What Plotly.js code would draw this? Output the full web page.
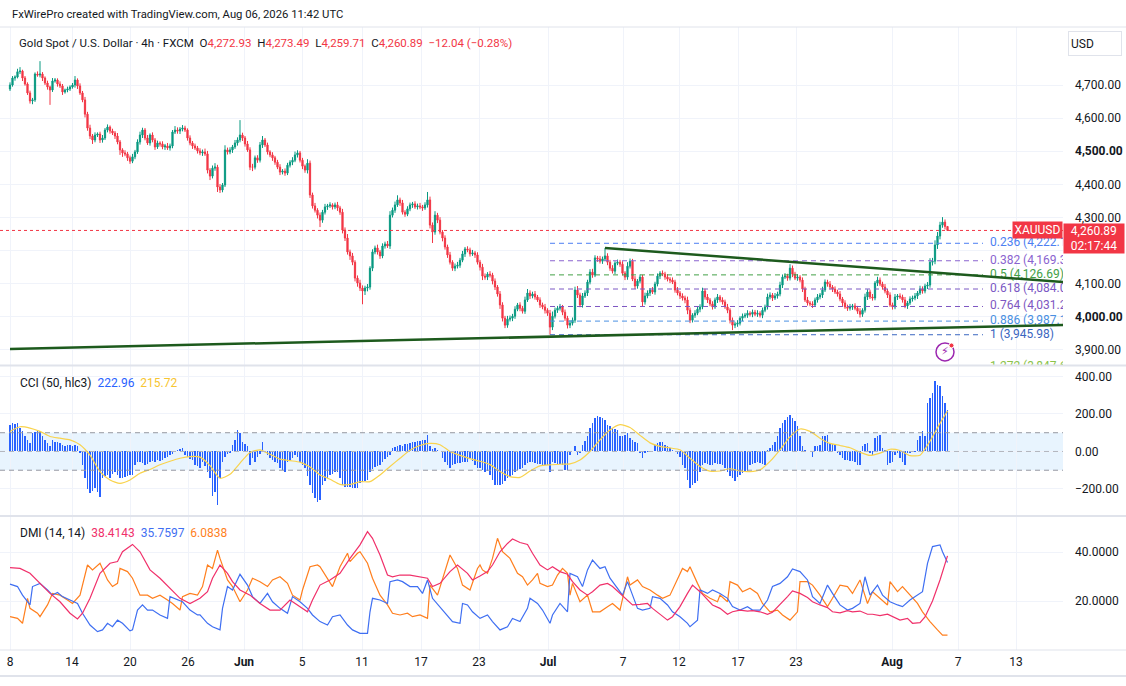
<!DOCTYPE html>
<html>
<head>
<meta charset="utf-8">
<title>XAUUSD 4h</title>
<script src="https://cdn.plot.ly/plotly-3.0.1.min.js"></script>
<style>
    html, body { margin: 0; padding: 0; background: #ffffff; }
    #graf { width: 1126px; height: 686px; }
</style>
</head>
<body>
<div id="graf"></div>
<script>
// 4h bars (open of each bar = previous close)
var firstOpen = 4688;
var closes = [
    4700,4721,4724,4740,4742,4721,4703,4676,4652,4655,4733,4730,4733,4721,4706,4694,4685,4712,4715,4703,
    4697,4679,4685,4688,4694,4700,4715,4697,4676,4655,4612,4570,4546,4534,4549,4552,4534,4540,4564,4573,
    4561,4555,4546,4528,4504,4495,4492,4480,4470,4483,4498,4528,4549,4564,4540,4525,4549,4534,4513,4525,
    4522,4513,4516,4510,4516,4558,4564,4561,4567,4570,4564,4540,4525,4516,4510,4501,4495,4498,4492,4443,
    4425,4449,4452,4392,4383,4398,4504,4498,4504,4513,4525,4534,4549,4540,4522,4504,4452,4452,4480,4473,
    4519,4534,4519,4498,4489,4480,4467,4452,4437,4440,4434,4458,4467,4473,4489,4495,4473,4455,4443,4464,
    4368,4335,4322,4307,4292,4316,4332,4335,4338,4332,4338,4329,4316,4262,4238,4196,4184,4165,4117,4102,
    4087,4078,4087,4090,4147,4196,4208,4196,4184,4214,4220,4214,4307,4322,4338,4353,4344,4316,4310,4326,
    4338,4341,4332,4335,4332,4329,4338,4353,4277,4256,4307,4292,4256,4238,4211,4187,4165,4147,4153,4156,
    4171,4190,4205,4202,4190,4193,4187,4165,4150,4123,4120,4129,4126,4108,4090,4069,4036,3996,3975,3993,
    3996,4002,4023,4036,4026,4017,4051,4072,4063,4069,4060,4051,4036,4030,4020,4011,3969,4002,4020,4026,
    4030,4014,3996,3975,3981,3990,4081,4066,4036,4063,4072,4105,4135,4126,4178,4175,4168,4175,4184,4165,
    4147,4138,4162,4165,4159,4132,4120,4153,4168,4114,4093,4108,4120,4045,4063,4072,4081,4075,4099,4123,
    4132,4129,4120,4114,4111,4105,4081,4072,4063,4057,4051,4020,3990,4005,4011,4023,4030,4078,4060,4051,
    4039,4030,4051,4060,4051,4045,4030,4020,3990,3975,3978,3981,3996,4002,4005,4011,4008,4014,4008,4011,
    4005,4020,4030,4060,4066,4057,4063,4069,4096,4120,4123,4117,4147,4129,4117,4120,4111,4084,4051,4042,
    4039,4036,4051,4060,4066,4081,4105,4099,4090,4084,4075,4069,4054,4042,4030,4026,4030,4033,4026,4017,
    4008,4020,4060,4075,4060,4057,4102,4111,4099,4090,4078,4066,4036,4030,4060,4063,4060,4051,4033,4042,
    4054,4057,4063,4072,4084,4078,4093,4096,4165,4168,4217,4244,4277,4286,4272.93,4260.89
];
// wick above / below the body, in dollars
var wickUp = [
    8,6,5,9,12,4,6,5,7,6,5,8,39,6,5,7,4,9,6,5,
    8,6,4,7,5,6,12,5,8,6,9,7,10,6,8,5,7,9,6,8,
    5,7,6,9,6,5,8,6,7,9,6,8,10,7,6,9,5,8,6,7,
    5,8,6,9,7,6,12,8,6,9,7,5,8,6,7,6,8,7,10,9,
    6,8,12,7,9,6,14,7,8,6,9,8,45,7,6,9,8,10,7,8,
    9,12,6,7,5,8,6,7,9,6,8,7,6,9,10,8,6,7,5,12,
    8,7,9,6,8,7,9,6,8,5,7,9,6,10,8,12,7,9,6,8,
    10,8,7,9,6,8,7,10,6,8,7,9,12,8,10,14,7,9,6,8,
    7,6,8,7,9,6,8,24,10,8,12,7,9,6,8,7,9,6,8,10,
    7,9,6,8,7,9,6,8,7,10,8,6,9,7,8,6,9,8,7,10,
    8,7,9,6,8,7,10,12,8,7,9,6,8,7,9,6,10,14,8,7,
    9,6,8,7,9,8,10,12,7,9,8,7,9,10,8,6,9,7,24,8,
    7,9,6,8,7,9,6,12,8,7,9,6,8,7,10,8,6,9,7,8,
    6,8,7,9,6,8,7,9,6,8,7,10,8,6,9,7,8,10,7,9,
    6,8,7,9,6,8,7,9,6,8,7,9,6,8,7,9,6,8,7,9,
    6,8,7,10,8,6,9,7,10,8,9,7,12,8,7,9,6,8,7,9,
    6,8,7,9,6,10,8,7,9,6,8,7,9,6,8,7,9,6,8,7,
    9,6,10,8,7,9,6,10,8,7,9,6,8,7,9,6,8,7,9,6,
    8,7,9,6,10,8,7,9,12,10,14,12,10,15,8,0.56
];
var wickDn = [
    6,5,8,4,7,9,5,6,8,10,6,5,7,9,6,8,45,6,5,8,
    6,9,5,7,6,5,8,9,6,7,10,8,9,12,7,6,9,8,6,7,
    8,6,9,7,15,12,7,9,8,6,7,6,8,9,7,6,8,7,9,6,
    8,7,9,6,8,7,6,8,9,7,6,8,7,9,6,8,7,9,6,10,
    12,7,8,15,9,7,6,8,7,9,6,8,7,9,8,6,9,12,7,8,
    7,9,6,8,7,9,8,6,9,7,8,6,7,9,6,8,7,9,8,10,
    9,8,7,10,21,8,7,9,6,8,7,9,8,10,9,8,12,9,10,11,
    9,40,12,10,8,9,7,8,9,7,8,6,9,7,8,6,9,7,8,6,
    7,9,6,8,7,9,6,8,10,33,8,9,7,10,8,9,7,8,9,7,
    8,6,9,7,8,6,9,7,10,12,8,9,7,10,9,8,12,10,9,8,
    7,9,8,6,9,7,8,6,9,7,8,6,9,7,10,8,23,9,7,8,
    7,9,8,10,9,7,8,9,7,8,6,9,7,8,6,9,7,8,6,9,
    8,7,9,6,8,7,9,8,7,6,9,8,7,15,8,7,9,6,8,7,
    9,6,8,7,9,6,8,7,9,8,10,12,9,7,8,6,9,7,8,9,
    7,8,6,9,7,8,6,9,10,15,9,8,7,9,6,8,7,9,6,8,
    7,9,6,8,7,9,6,8,7,9,6,8,7,9,6,8,7,9,6,8,
    7,9,6,8,7,9,6,8,7,9,6,8,7,9,6,8,7,9,6,8,
    10,8,7,9,6,8,7,9,6,8,7,9,6,8,7,9,6,8,7,9,
    6,8,7,9,6,8,7,9,8,10,9,12,10,8,9,1.18
];

// CCI (50, hlc3), one value per bar
var cci = [
    143,152,148,150,125,107,80,60,45,98,105,110,107,80,60,45,27,62,53,48,
    45,35,30,33,35,30,35,27,-10,-71,-143,-200,-223,-210,-196,-215,-241,-140,-130,-125,
    -143,-120,-107,-125,-143,-140,-135,-130,-128,-125,-71,-54,-54,-60,-71,-65,-54,-50,-54,-45,
    -50,-45,-36,-30,-18,-15,0,8,12,18,-18,-30,-40,-45,-71,-80,-89,-54,-80,-107,
    -143,-240,-214,-286,-143,-54,-30,-15,-9,35,60,112,100,53,40,27,-71,-36,-54,-30,
    -15,50,0,-18,-36,-45,-54,-60,-89,-100,-107,-54,-45,-36,-18,-30,-54,-71,-89,-130,
    -179,-220,-250,-268,-260,-179,-160,-143,-125,-118,-112,-107,-143,-179,-188,-190,-192,-196,-194,-196,
    -170,-165,-160,-152,-107,-95,-85,-78,-71,-54,-40,-30,-18,18,25,30,35,30,38,42,
    45,48,50,55,58,60,62,89,27,15,20,10,0,-36,-54,-71,-89,-71,-65,-60,
    -62,-58,-54,-54,-36,-50,-70,-89,-89,-100,-107,-105,-125,-150,-179,-180,-179,-175,-160,-143,
    -135,-125,-107,-100,-95,-89,-71,-62,-58,-54,-62,-65,-68,-70,-71,-71,-107,-54,-60,-65,
    -68,-71,-98,-98,-18,0,27,-18,-9,35,55,80,125,150,179,187,185,178,170,143,
    135,125,120,116,80,85,90,98,71,60,50,45,-9,-36,-9,-5,-4,0,35,45,
    53,48,35,30,20,9,0,-15,-27,-71,-89,-152,-196,-180,-170,-160,-107,-71,-62,-65,
    -70,-71,-62,-65,-68,-71,-89,-110,-130,-143,-160,-134,-125,-115,-107,-107,-71,-68,-62,-54,
    -60,-65,-71,9,20,35,53,80,125,150,170,185,196,179,160,134,80,27,9,5,
    0,-27,27,30,35,80,85,89,45,40,35,-9,-20,-36,-45,-48,-50,-52,-54,-71,
    -71,27,40,45,-9,-18,71,80,89,18,9,-71,-60,-54,-18,-9,-36,-55,-71,-9,
    -6,-4,-5,62,85,107,80,259,286,312,375,357,348,295,259,222.96
];
// CCI smoothing line, read every 4th bar (last point = last bar)
var cciMa = [
    107,132,125,107,80,71,62,36,-20,-107,
    -152,-170,-152,-116,-96,-71,-52,-36,-27,-30,
    -75,-143,-122,-62,-5,9,-15,-41,-49,-57,
    -83,-125,-148,-175,-176,-161,-161,-125,-80,-36,
    7,32,43,36,0,-21,-38,-52,-70,-107,
    -134,-138,-104,-77,-71,-68,-66,-45,0,62,
    115,143,128,86,46,27,19,9,-36,-80,
    -105,-104,-92,-104,-107,-98,-53,9,78,120,
    107,71,43,32,20,-4,-21,-9,12,5,
    -22,-20,55,150,215.72
];

// DMI (14, 14): [bar, value]
var adx = [[0,33.6],[4,33.3],[8,31.3],[12,27.2],[16,23.1],[20,19.7],[24,15.0],[27,12.7],[29,15.0],[32,21.1],
    [36,31.3],[40,35.4],[43,36.1],[45,40.1],[49,43.1],[52,40.1],[56,32.7],[60,29.3],[64,25.2],[68,21.1],
    [72,19.0],[76,21.1],[79,23.8],[81,29.3],[84,34.7],[87,31.3],[89,27.9],[92,24.5],[96,22.4],[100,19.0],
    [104,16.3],[108,16.3],[112,20.4],[116,17.7],[119,15.6],[121,20.4],[124,26.5],[128,28.6],[132,31.3],[136,37.4],
    [140,42.9],[143,48.3],[145,45.6],[148,38.8],[151,30.6],[153,29.9],[156,30.6],[160,30.6],[164,29.9],[167,29.3],
    [169,25.9],[172,27.2],[176,32.0],[179,34.7],[183,31.3],[185,28.6],[188,30.2],[191,32.0],[193,34.7],[196,40.1],
    [199,43.5],[201,45.3],[204,43.9],[207,43.1],[209,39.5],[212,34.7],[215,32.7],[217,34.0],[220,32.0],[223,30.9],
    [225,27.9],[228,24.5],[231,22.4],[233,23.8],[236,26.5],[239,27.2],[241,25.9],[244,23.1],[247,20.4],[249,18.4],
    [252,18.6],[255,19.0],[257,17.0],[260,14.6],[263,12.2],[265,13.6],[268,17.7],[271,23.1],[273,26.5],[276,23.8],
    [279,20.4],[281,18.4],[284,17.0],[287,14.6],[289,15.6],[292,16.3],[295,15.9],[297,16.1],[300,15.6],[303,14.6],
    [305,15.4],[308,18.4],[311,21.8],[313,24.1],[316,23.1],[319,21.4],[321,19.7],[324,18.4],[327,17.3],[329,15.6],
    [332,15.2],[335,16.1],[337,15.6],[340,15.9],[343,14.6],[345,14.6],[348,14.0],[351,14.6],[353,13.6],[356,12.2],
    [359,12.9],[361,10.9],[364,11.2],[366,13.5],[369,20.0],[372,28.6],[375,38.4143]];
var plusDi = [[0,26.9],[3,25.9],[5,22.4],[8,18.4],[9,25.9],[12,27.2],[15,24.5],[17,22.4],[19,23.5],[21,21.8],
    [24,20.4],[27,19.0],[29,15.0],[32,10.2],[35,7.5],[37,8.2],[39,10.9],[41,9.5],[43,12.2],[45,10.9],
    [48,7.8],[49,8.2],[51,16.3],[53,18.4],[55,16.3],[57,16.3],[60,14.3],[63,12.9],[64,21.8],[67,20.4],
    [69,19.7],[72,16.3],[75,14.3],[76,14.3],[79,10.9],[81,9.5],[84,8.2],[85,17.0],[87,25.9],[89,24.5],
    [92,30.9],[95,26.5],[97,21.8],[100,19.0],[103,23.1],[105,19.7],[108,17.0],[111,15.0],[113,21.8],[116,19.7],
    [119,17.0],[121,14.3],[124,11.6],[127,10.2],[129,13.6],[132,14.3],[135,10.2],[137,8.2],[140,6.8],[143,6.8],
    [144,15.6],[145,21.1],[148,20.4],[151,19.0],[152,27.9],[155,28.6],[157,27.9],[160,25.9],[163,25.9],[165,23.1],
    [167,28.6],[169,21.1],[172,17.7],[175,14.3],[177,11.6],[180,10.9],[181,19.0],[183,18.4],[185,15.6],[188,12.9],
    [191,14.3],[193,11.6],[196,8.2],[199,9.5],[201,12.9],[204,11.6],[207,17.0],[208,21.1],[211,19.0],[213,16.3],
    [216,10.9],[217,14.3],[219,17.7],[220,19.0],[223,15.6],[224,31.3],[227,29.9],[229,25.9],[231,32.7],[233,36.7],
    [236,33.3],[238,34.0],[240,29.3],[243,25.2],[245,22.4],[247,27.9],[249,22.4],[251,17.0],[253,16.3],[256,17.0],
    [257,21.8],[260,21.1],[263,18.4],[265,15.6],[268,13.6],[271,10.9],[272,9.5],[275,12.2],[276,24.5],[279,23.1],
    [281,24.5],[284,23.1],[287,21.1],[289,17.7],[292,16.3],[295,17.7],[297,16.3],[300,16.3],[303,20.4],[305,25.9],
    [308,27.2],[311,29.9],[313,33.1],[316,32.0],[319,28.6],[321,21.8],[324,19.0],[327,26.5],[329,23.1],[332,18.4],
    [335,16.3],[337,17.0],[340,19.0],[342,29.9],[344,22.4],[347,26.5],[349,22.4],[352,19.7],[355,18.4],[357,17.7],
    [360,20.4],[363,22.4],[365,23.8],[367,35.4],[369,42.2],[372,42.9],[373,40.1],[375,35.7597]];
var minusDi = [[0,13.6],[3,12.9],[5,10.9],[7,21.1],[8,17.0],[11,15.0],[12,13.6],[15,18.4],[17,23.1],[20,22.4],
    [23,20.4],[25,19.0],[28,22.4],[31,34.7],[33,32.7],[36,35.4],[39,28.6],[41,25.9],[43,27.2],[44,33.3],
    [47,32.0],[49,29.3],[52,22.4],[55,22.4],[57,21.1],[60,22.4],[63,20.4],[65,19.0],[68,16.3],[69,21.8],
    [72,23.1],[75,22.4],[77,25.9],[79,34.7],[81,33.3],[83,40.8],[84,37.4],[87,28.6],[89,25.9],[92,19.7],
    [95,24.5],[97,29.3],[100,27.9],[103,25.9],[105,28.6],[108,29.9],[111,27.2],[113,22.4],[116,20.4],[117,24.5],
    [120,34.0],[123,34.7],[124,34.0],[127,29.3],[129,25.9],[132,34.0],[135,39.5],[136,36.1],[139,39.5],[140,40.1],
    [143,35.4],[145,29.3],[148,22.4],[151,18.4],[153,15.0],[156,14.3],[159,15.0],[161,13.6],[164,14.3],[167,12.9],
    [168,26.5],[171,22.4],[173,29.3],[176,38.8],[179,33.3],[181,26.5],[184,24.5],[187,33.3],[188,34.7],[189,32.7],
    [191,31.3],[193,37.4],[195,45.6],[197,40.1],[200,37.4],[203,31.3],[205,29.9],[207,26.5],[209,28.6],[211,31.3],
    [212,27.2],[215,25.9],[217,26.5],[219,30.6],[221,33.3],[223,31.3],[224,22.4],[225,27.2],[228,19.7],[231,22.4],
    [233,15.6],[236,15.6],[239,17.7],[241,19.0],[244,16.3],[247,29.9],[248,26.5],[251,28.6],[253,25.9],[256,24.5],
    [259,22.4],[261,21.1],[264,22.4],[267,28.6],[269,33.3],[271,32.0],[272,34.0],[275,27.2],[277,23.1],[280,21.1],
    [283,19.7],[284,22.4],[287,19.7],[288,27.9],[291,26.5],[293,23.8],[296,25.2],[299,23.1],[301,19.0],[304,15.6],
    [307,16.3],[309,14.3],[312,12.2],[315,15.6],[316,27.9],[319,27.9],[321,26.5],[324,22.4],[327,17.7],[329,21.1],
    [332,26.5],[335,25.9],[337,23.1],[340,28.6],[343,19.0],[345,23.8],[348,21.1],[351,18.4],[352,27.9],[355,23.8],
    [357,25.9],[360,22.4],[363,19.0],[365,15.6],[368,11.6],[371,8.2],[373,6.1],[375,6.0838]];

// time axis (bar positions of the date labels)
var tickBars = [0, 24.8, 48, 71.2, 93.6, 116.8, 140.8, 164.4, 187.6, 215.2, 245.2, 267.6, 291.2, 314.4, 352.8, 379.2, 402.4];
var tickText = ['8','14','20','26','<b>Jun</b>','5','11','17','23','<b>Jul</b>','7','12','17','23','<b>Aug</b>','7','13'];

// fibonacci retracement (from 4,307.40 down to 3,945.98) and its colours
var fibHigh = 4307.40;
var fibLow = 3945.98;
var fibLevels = [0.236, 0.382, 0.5, 0.618, 0.764, 0.886, 1, 1.272];
var fibColors = ['#4d7ff2', '#8a63cf', '#43a047', '#7b58c4', '#7e57c2', '#4a90e2', '#3a66c0', '#8bc34a'];
var fibFrom = 216, fibTo = 389.2, fibText = 392;

// hand drawn trend lines: [bar, price] -> [bar, price]
var supportLine = [[0, 3903], [421.2, 3975.5]];
var resistLine = [[238, 4208], [421.2, 4105]];

var red = '#f23645', green = '#089981';
var fontFam = 'Roboto, "Liberation Sans", sans-serif';

function fmt(v, d) {
    return v.toLocaleString('en-US', {minimumFractionDigits: d, maximumFractionDigits: d});
}
function minus(s) {
    return s.replace('-', '\u2212');
}

var bars = [], opens = [], highs = [], lows = [];
for (var i = 0; i < closes.length; i++) {
    var o = i === 0 ? firstOpen : closes[i - 1];
    bars.push(i);
    opens.push(o);
    highs.push(Math.max(o, closes[i]) + wickUp[i]);
    lows.push(Math.min(o, closes[i]) - wickDn[i]);
}
var last = closes.length - 1;

var cciMaBars = [];
for (var k = 0; k < cciMa.length - 1; k++) {
    cciMaBars.push(k * 4);
}
cciMaBars.push(last);

function kol(arr, n) {
    return arr.map(function (p) { return p[n]; });
}

var traces = [];
traces.push({
    type: 'candlestick', x: bars, open: opens, high: highs, low: lows, close: closes,
    xaxis: 'x', yaxis: 'y', hoverinfo: 'skip', whiskerwidth: 0,
    increasing: {line: {color: green, width: 1}, fillcolor: green},
    decreasing: {line: {color: red, width: 1}, fillcolor: red}
});

// labels are cut by the price scale, as on the screenshot
var fibPrices = fibLevels.map(function (r) { return fibHigh - r * (fibHigh - fibLow); });
traces.push({
    type: 'scatter', mode: 'text', xaxis: 'x', yaxis: 'y', hoverinfo: 'skip', cliponaxis: true,
    x: fibLevels.map(function () { return fibText; }),
    y: fibPrices,
    text: fibLevels.map(function (r, j) { return (r + ' (' + fmt(fibPrices[j], 2) + ')').slice(0, 14); }),
    textposition: 'middle right',
    textfont: {family: fontFam, size: 12, color: fibColors}
});

traces.push({
    type: 'bar', x: bars, y: cci, xaxis: 'x', yaxis: 'y2', width: 0.6,
    marker: {color: '#2962ff', line: {width: 0}}, hoverinfo: 'skip'
});
traces.push({
    type: 'scatter', mode: 'lines', x: cciMaBars, y: cciMa, xaxis: 'x', yaxis: 'y2',
    line: {color: '#f9d34c', width: 1.2, shape: 'spline', smoothing: 0.6}, hoverinfo: 'skip'
});

traces.push({
    type: 'scatter', mode: 'lines', x: kol(minusDi, 0), y: kol(minusDi, 1), xaxis: 'x', yaxis: 'y3',
    line: {color: '#ff7f1e', width: 1.2}, hoverinfo: 'skip'
});
traces.push({
    type: 'scatter', mode: 'lines', x: kol(plusDi, 0), y: kol(plusDi, 1), xaxis: 'x', yaxis: 'y3',
    line: {color: '#3f6ff2', width: 1.2}, hoverinfo: 'skip'
});
traces.push({
    type: 'scatter', mode: 'lines', x: kol(adx, 0), y: kol(adx, 1), xaxis: 'x', yaxis: 'y3',
    line: {color: '#f0306a', width: 1.2}, hoverinfo: 'skip'
});

var shapes = [];
// CCI band
shapes.push({type: 'rect', xref: 'paper', x0: 0, x1: 1, yref: 'y2', y0: -100, y1: 100,
    fillcolor: 'rgba(33,150,243,0.1)', line: {width: 0}, layer: 'below'});
[100, -100, 0].forEach(function (v) {
    shapes.push({type: 'line', xref: 'paper', x0: 0, x1: 1, yref: 'y2', y0: v, y1: v,
        line: {color: v === 0 ? '#b2b5be' : '#9598a1', width: 1, dash: '5px,4px'}});
});
// fib lines
fibPrices.forEach(function (p, j) {
    shapes.push({type: 'line', xref: 'x', yref: 'y', x0: fibFrom, x1: fibTo, y0: p, y1: p,
        line: {color: fibColors[j], width: 1, dash: '5px,4px'}});
});
// trend lines
[supportLine, resistLine].forEach(function (ln) {
    shapes.push({type: 'line', xref: 'x', yref: 'y', x0: ln[0][0], y0: ln[0][1], x1: ln[1][0], y1: ln[1][1],
        line: {color: '#1d5a1d', width: 2.5}});
});
// last price line
shapes.push({type: 'line', xref: 'paper', x0: 0, x1: 1, yref: 'y', y0: closes[last], y1: closes[last],
    line: {color: red, width: 1, dash: 'dot'}});
// pane separators and frame
[1.0, 0.4567, 0.2151, 0, -0.0417].forEach(function (yy, j) {
    shapes.push({type: 'line', xref: 'paper', yref: 'paper', x0: 0, x1: 1126 / 1063, y0: yy, y1: yy,
        line: {color: '#e0e3eb', width: (j === 1 || j === 2 || j === 4) ? 2 : 1}});
});
// small alert icon
shapes.push({type: 'circle', xref: 'x', yref: 'y', xsizemode: 'pixel', ysizemode: 'pixel',
    xanchor: 374, yanchor: 3894, x0: -9, x1: 9, y0: -9, y1: 9,
    line: {color: '#9c27b0', width: 1.5}});
shapes.push({type: 'circle', xref: 'x', yref: 'y', xsizemode: 'pixel', ysizemode: 'pixel',
    xanchor: 374, yanchor: 3894, x0: 4, x1: 9, y0: 4, y1: 9,
    fillcolor: red, line: {color: '#ffffff', width: 1}});

var lastO = opens[last], lastH = highs[last], lastL = lows[last], lastC = closes[last];
var chg = lastC - lastO;
function rs(t) { return '<span style="color:' + red + '">' + t + '</span>'; }
var hlavicka = 'Gold Spot / U.S. Dollar \u00b7 4h \u00b7 FXCM&nbsp;&nbsp;O' + rs(fmt(lastO, 2)) +
    '&nbsp;&nbsp;H' + rs(fmt(lastH, 2)) + '&nbsp;&nbsp;L' + rs(fmt(lastL, 2)) +
    '&nbsp;&nbsp;C' + rs(fmt(lastC, 2)) + '&nbsp;&nbsp;' +
    rs(minus(fmt(chg, 2)) + ' (' + minus(fmt(chg / lastO * 100, 2)) + '%)');

var cciLegend = 'CCI (50, hlc3)&nbsp;&nbsp;<span style="color:#2962ff">' + fmt(cci[last], 2) +
    '</span>&nbsp;&nbsp;<span style="color:#f7c531">' + fmt(cciMa[cciMa.length - 1], 2) + '</span>';
var dmiLegend = 'DMI (14, 14)&nbsp;&nbsp;<span style="color:#f0306a">' + fmt(adx[adx.length - 1][1], 4) +
    '</span>&nbsp;&nbsp;<span style="color:#3f6ff2">' + fmt(plusDi[plusDi.length - 1][1], 4) +
    '</span>&nbsp;&nbsp;<span style="color:#ff7f1e">' + fmt(minusDi[minusDi.length - 1][1], 4) + '</span>';

var dark = '#131722';
var annotations = [
    {xref: 'paper', yref: 'paper', x: 10 / 1063, y: 1.0193, xanchor: 'left', yanchor: 'middle', showarrow: false,
        text: 'FxWirePro created with TradingView.com, Aug 06, 2026 11:42 UTC', font: {size: 11.3, color: dark}},
    {xref: 'paper', yref: 'paper', x: 17 / 1063, y: 0.9743, xanchor: 'left', yanchor: 'middle', showarrow: false,
        text: hlavicka, font: {size: 11.5, color: dark}},
    {xref: 'paper', yref: 'paper', x: 18 / 1063, y: 0.4286, xanchor: 'left', yanchor: 'middle', showarrow: false,
        text: cciLegend, font: {size: 12, color: dark}},
    {xref: 'paper', yref: 'paper', x: 18 / 1063, y: 0.1878, xanchor: 'left', yanchor: 'middle', showarrow: false,
        text: dmiLegend, font: {size: 12, color: dark}},
    {xref: 'paper', yref: 'paper', x: 1068 / 1063, y: 0.9743, xanchor: 'left', yanchor: 'middle', showarrow: false,
        text: 'USD', align: 'left', width: 48, height: 19, borderpad: 2, bordercolor: '#e0e3eb', borderwidth: 1,
        bgcolor: '#ffffff', font: {size: 12, color: dark}},
    {xref: 'paper', yref: 'y', x: 1, y: lastC, xanchor: 'left', yanchor: 'top', yshift: 7, showarrow: false,
        text: fmt(lastC, 2) + '<br>02:17:44', width: 58, height: 27, borderpad: 1, bgcolor: red,
        font: {size: 12, color: '#ffffff'}},
    {xref: 'paper', yref: 'y', x: 1, y: lastC, xanchor: 'right', yanchor: 'middle', showarrow: false,
        text: 'XAUUSD', width: 47, height: 14, borderpad: 1, bgcolor: red,
        font: {size: 12, color: '#ffffff'}},
    {xref: 'x', yref: 'y', x: 374, y: 3894, showarrow: false, text: '\u26a1',
        font: {size: 11, color: '#9c27b0', family: 'DejaVu Sans'}}
];

var grid = '#f0f3fa';
var layout = {
    width: 1126, height: 686,
    margin: {l: 0, r: 63, t: 27, b: 36},
    paper_bgcolor: '#ffffff', plot_bgcolor: '#ffffff',
    font: {family: fontFam, size: 12, color: dark},
    showlegend: false,
    bargap: 0,
    xaxis: {
        range: [-4, 421.2], anchor: 'y3', rangeslider: {visible: false},
        tickvals: tickBars, ticktext: tickText, ticks: '', showgrid: true, gridcolor: grid,
        zeroline: false, showline: false, tickfont: {size: 12, color: dark}, fixedrange: true,
        ticklabelstandoff: 3
    },
    yaxis: {
        domain: [0.4575, 1], range: [3854.7, 4875.1], side: 'right', anchor: 'x',
        tickvals: [3900, 4000, 4100, 4200, 4300, 4400, 4500, 4600, 4700],
        ticktext: ['3,900.00', '<b>4,000.00</b>', '4,100.00', '', '4,300.00', '4,400.00', '<b>4,500.00</b>', '4,600.00', '4,700.00'],
        ticks: '', ticklabelstandoff: 11, showgrid: true, gridcolor: grid, zeroline: false
    },
    yaxis2: {
        domain: [0.2167, 0.4559], range: [-338.7, 456], side: 'right', anchor: 'x',
        tickvals: [-200, 0, 200, 400], ticktext: ['\u2212200.00', '0.00', '200.00', '400.00'],
        ticks: '', ticklabelstandoff: 11, showgrid: true, gridcolor: grid, zeroline: false
    },
    yaxis3: {
        domain: [0, 0.2135], range: [0, 54.3], side: 'right', anchor: 'x',
        tickvals: [20, 40], ticktext: ['20.0000', '40.0000'],
        ticks: '', ticklabelstandoff: 11, showgrid: true, gridcolor: grid, zeroline: false
    },
    shapes: shapes,
    annotations: annotations
};

Plotly.newPlot('graf', traces, layout, {staticPlot: true, displayModeBar: false});
</script>
</body>
</html>
